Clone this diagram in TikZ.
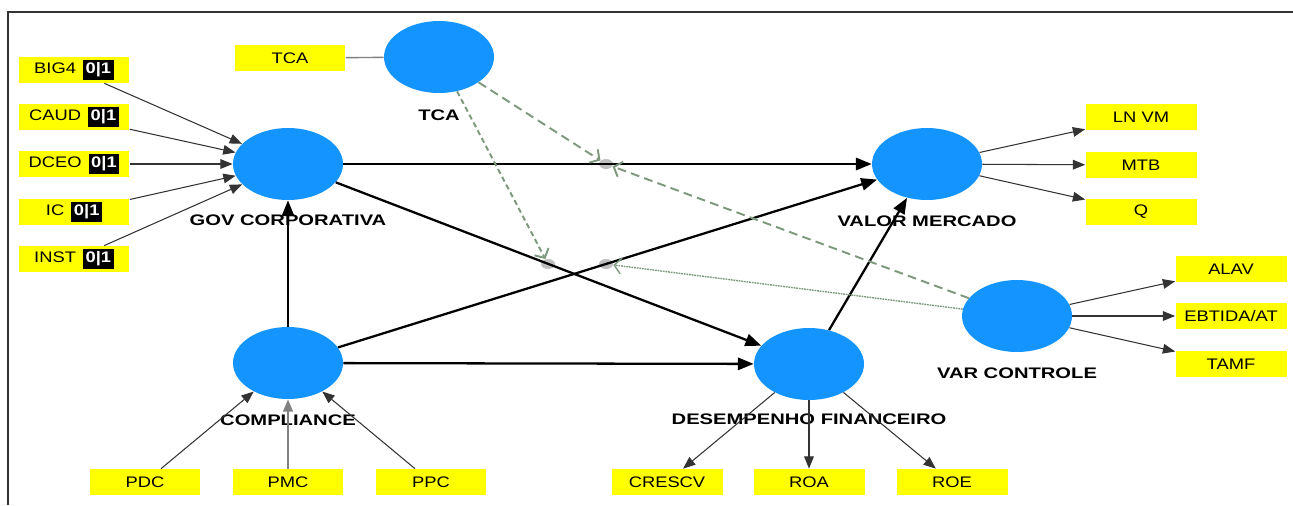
\documentclass[tikz,border=0pt]{standalone}
\usepackage{fontspec}
\setmainfont{Liberation Sans}[FakeStretch=1.2]
\newfontfamily\lvfont{Liberation Sans}[FakeStretch=1.32]
\usetikzlibrary{shapes.geometric,arrows.meta}
\definecolor{lvblue}{RGB}{20,148,255}
\definecolor{indyellow}{RGB}{255,255,0}
\definecolor{modgreen}{RGB}{125,152,125}
\newcommand{\binflag}[1]{{\setlength{\fboxsep}{1.5pt}\colorbox{black}{\textcolor{white}{\bfseries #1}}}}
\tikzset{
  latent/.style={ellipse,fill=lvblue,minimum width=2.2cm,minimum height=1.44cm,inner sep=0pt},
  indicator/.style={rectangle,fill=indyellow,minimum width=2.22cm,minimum height=0.52cm,inner sep=0pt,font=\fontsize{8.7}{10}\selectfont},
  lvlabel/.style={inner sep=0pt,font=\lvfont\bfseries\fontsize{8.7}{10}\selectfont},
  moddot/.style={ellipse,fill=black!25,minimum width=0.28cm,minimum height=0.2cm,inner sep=0pt},
  inarrow/.style={draw=black!80,line width=0.6pt,-{Triangle[length=7pt,width=5.5pt]}},
  patharrow/.style={draw=black,line width=1.3pt,-{Triangle[length=9pt,width=7pt]}},
  modarrow/.style={draw=modgreen,line width=1.1pt,-{Straight Barb[length=4pt,width=9pt]}}
}
\begin{document}
\begin{tikzpicture}[x=0.02cm,y=-0.02cm]
  \useasboundingbox (0,0) rectangle (1293,505);
  % Frame
  \draw[line width=1pt,black!80] (8,505) -- (8,12) -- (1293,12);
  % Latent variables
  \node[latent] (tca) at (439,57) {};
  \node[latent] (gov) at (288,164) {};
  \node[latent] (comp) at (288,363) {};
  \node[latent] (valor) at (927,164) {};
  \node[latent] (desemp) at (809,364) {};
  \node[latent] (varctrl) at (1017,316) {};
  \node[lvlabel] (tcalbl) at (439,115) {TCA};
  \node[lvlabel] (govlbl) at (288,220) {GOV CORPORATIVA};
  \node[lvlabel] (complbl) at (288,420) {COMPLIANCE};
  \node[lvlabel] (valorlbl) at (927,221) {VALOR MERCADO};
  \node[lvlabel] (desemplbl) at (809,419) {DESEMPENHO FINANCEIRO};
  \node[lvlabel] (varctrllbl) at (1017,373) {VAR CONTROLE};
  % Indicators
  \node[indicator] (tcaind) at (290,58) {TCA};
  \node[indicator] (big4) at (74,70) {BIG4\hspace{4pt}\binflag{0|1}};
  \node[indicator] (caud) at (74,117) {CAUD\hspace{4pt}\binflag{0|1}};
  \node[indicator] (dceo) at (74,164) {DCEO\hspace{4pt}\binflag{0|1}};
  \node[indicator] (ic) at (74,212) {IC\hspace{4pt}\binflag{0|1}};
  \node[indicator] (inst) at (74,259) {INST\hspace{4pt}\binflag{0|1}};
  \node[indicator] (pdc) at (145,482) {PDC};
  \node[indicator] (pmc) at (288,482) {PMC};
  \node[indicator] (ppc) at (431,482) {PPC};
  \node[indicator] (crescv) at (667,482) {CRESCV};
  \node[indicator] (roa) at (809,482) {ROA};
  \node[indicator] (roe) at (952,482) {ROE};
  \node[indicator] (lnvm) at (1141,117) {LN VM};
  \node[indicator] (mtb) at (1141,165) {MTB};
  \node[indicator] (q) at (1141,212) {Q};
  \node[indicator] (alav) at (1231,269) {ALAV};
  \node[indicator] (ebtida) at (1231,316) {EBTIDA/AT};
  \node[indicator] (tamf) at (1231,364) {TAMF};
  % Moderation points
  \node[moddot] (m1) at (606,164) {};
  \node[moddot] (m2) at (548,264) {};
  \node[moddot] (m3) at (606,264) {};
  % Measurement model
  \draw[gray,line width=0.8pt] (tcaind) -- (tca);
  \foreach \ind in {big4,caud,dceo,ic,inst}
    \draw[inarrow] (\ind) -- (gov);
  \draw[inarrow] (pdc) -- (comp);
  \draw[inarrow,draw=gray,line width=1.3pt] (pmc) -- (comp);
  \draw[inarrow] (ppc) -- (comp);
  \foreach \ind in {crescv,roa,roe}
    \draw[inarrow] (desemp) -- (\ind);
  \foreach \ind in {lnvm,mtb,q}
    \draw[inarrow] (valor) -- (\ind);
  \foreach \ind in {alav,ebtida,tamf}
    \draw[inarrow] (varctrl) -- (\ind);
  % Structural model
  \draw[patharrow] (comp) -- (gov);
  \draw[patharrow] (gov) -- (valor);
  \draw[patharrow] (gov) -- (desemp);
  \draw[patharrow] (comp) -- (valor);
  \draw[patharrow] (comp) -- (desemp);
  \draw[patharrow] (desemp) -- (valor);
  % Moderating effects
  \draw[modarrow,dash pattern=on 5pt off 3pt] (tca) -- (m1);
  \draw[modarrow,dash pattern=on 3pt off 2pt] (tca) -- (m2);
  \draw[modarrow,dash pattern=on 5pt off 3pt] (varctrl) -- (m1);
  \draw[modarrow,line width=0.8pt,dash pattern=on 1pt off 0.5pt] (varctrl) -- (m3);
\end{tikzpicture}
\end{document}
